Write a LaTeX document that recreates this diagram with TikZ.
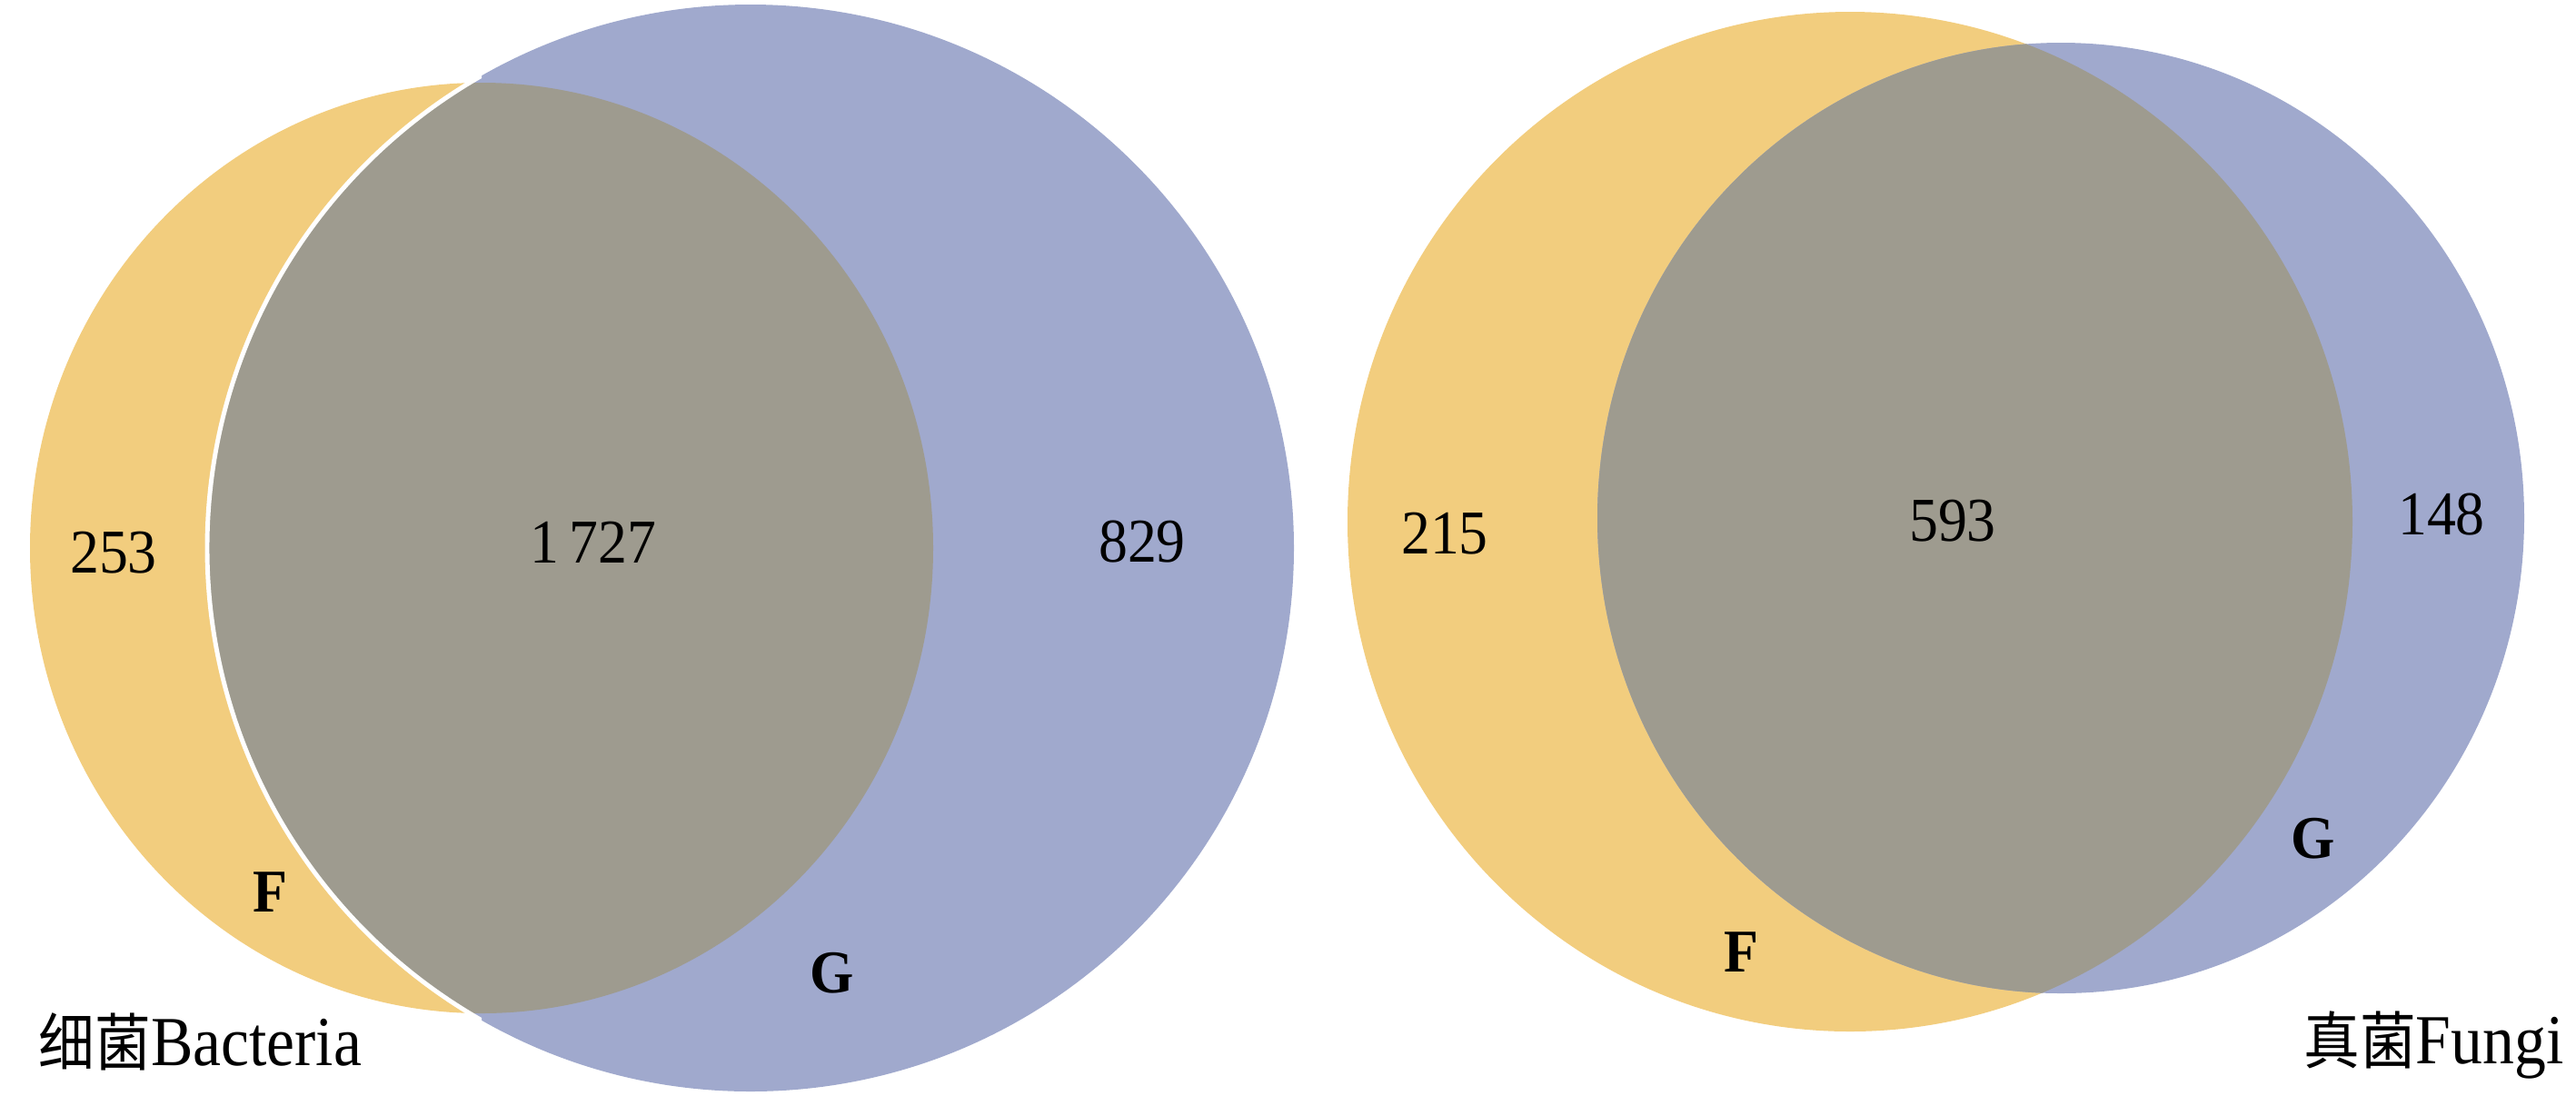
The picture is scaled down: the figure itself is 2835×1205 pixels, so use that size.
\documentclass[tikz,border=0pt]{standalone}
\usepackage{fontspec}
\setmainfont{Liberation Serif}
\newfontfamily\cjk{Noto Sans CJK SC}
\definecolor{yel}{HTML}{F2CD7E}
\definecolor{blu}{HTML}{A0A9CD}
\definecolor{gry}{HTML}{9E9B8F}
\tikzset{
  numlbl/.style={font=\fontsize{19.5}{19.5}\selectfont, xscale=0.93, inner sep=0pt},
  setlbl/.style={font=\fontsize{19}{19}\selectfont\bfseries, xscale=0.93, inner sep=0pt},
  titlelbl/.style={font=\fontsize{22}{22}\selectfont, xscale=0.9, inner sep=0pt},
}
\begin{document}
\begin{tikzpicture}[x=0.01cm,y=-0.01cm]
\useasboundingbox (0,0) rectangle (2835,1205);
% ---------- Bacteria ----------
\fill[yel] (530,603) ellipse [x radius=497, y radius=512];
\fill[blu] (826,603) circle [radius=598];
\begin{scope}
  \clip (530,603) ellipse [x radius=497, y radius=512];
  \fill[gry] (826,603) circle [radius=598];
\end{scope}
\begin{scope}
  \clip (530,603) ellipse [x radius=505, y radius=520];
  \clip (0,0) rectangle (530,1205);
  \draw[white, line width=1.4pt] (826,603) circle [radius=598];
\end{scope}
\node[numlbl] (b253) at (125,608) {253};
\node[numlbl] (b1727) at (653,597) {1\,727};
\node[numlbl] (b829) at (1257,596) {829};
\node[setlbl] (bF) at (297,982) {F};
\node[setlbl] (bG) at (916,1071) {G};
\node[titlelbl, anchor=west] (btitle) at (42,1146) {{\cjk\fontsize{19.5}{19.5}\selectfont 细菌}Bacteria};
% ---------- Fungi ----------
\fill[yel] (2036,574) ellipse [x radius=553, y radius=561];
\fill[blu] (2268,570) ellipse [x radius=510, y radius=523];
\begin{scope}
  \clip (2036,574) ellipse [x radius=553, y radius=561];
  \fill[gry] (2268,570) ellipse [x radius=510, y radius=523];
\end{scope}
\node[numlbl] (f215) at (1590,587) {215};
\node[numlbl] (f593) at (2149,573) {593};
\node[numlbl] (f148) at (2687,566) {148};
\node[setlbl] (fG) at (2546,923) {G};
\node[setlbl] (fF) at (1916,1048) {F};
\node[titlelbl, anchor=east] (ftitle) at (2822,1150) {{\cjk\fontsize{19.5}{19.5}\selectfont 真菌}Fungi};
\end{tikzpicture}
\end{document}
